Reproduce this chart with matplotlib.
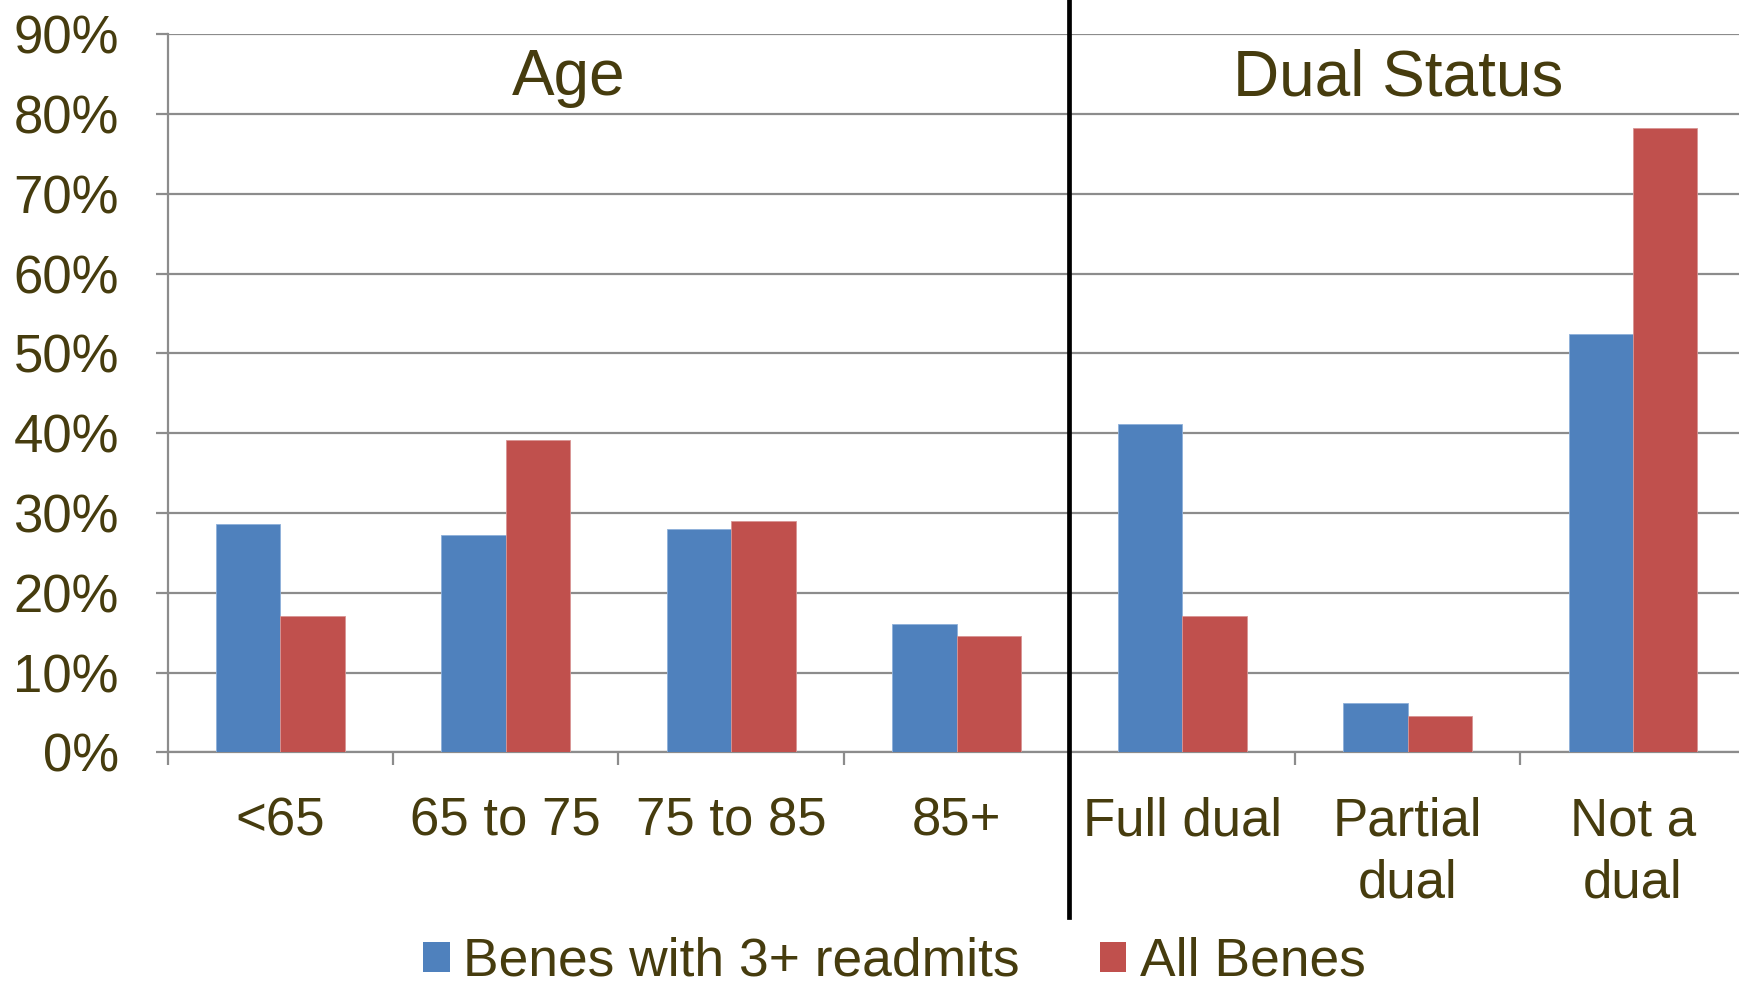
import matplotlib
matplotlib.use("Agg")
import matplotlib.pyplot as plt
from matplotlib.patches import Patch
import numpy as np

categories = ["<65", "65 to 75", "75 to 85", "85+", "Full dual", "Partial\ndual", "Not a\ndual"]
readmit3 = [28.6, 27.2, 28.0, 16.1, 41.2, 6.2, 52.5]
all_benes = [17.1, 39.2, 29.0, 14.6, 17.1, 4.5, 78.3]
series_names = ["Benes with 3+ readmits", "All Benes"]
group_titles = ["Age", "Dual Status"]
yticks = [0, 10, 20, 30, 40, 50, 60, 70, 80, 90]

TXT = "#463C0E"
GRID = "#8C8C8C"
BLUE = "#4F81BD"
RED = "#C0504D"

plt.rcParams['font.family'] = ['Liberation Sans', 'DejaVu Sans']

fig = plt.figure(figsize=(17.4, 9.84), dpi=100)
ax = fig.add_axes([0.0963, 0.2354, 0.907, 0.7297])

n = len(categories)
x = np.arange(n) + 0.5
w = 1 / 3.5
ax.bar(x - w / 2, readmit3, width=w, color=BLUE, edgecolor="#8EB0DA", linewidth=0.6, zorder=3)
ax.bar(x + w / 2, all_benes, width=w, color=RED, edgecolor="#D99594", linewidth=0.6, zorder=3)

ax.set_xlim(0, n)
ax.set_ylim(0, 90)
ax.set_yticks(yticks)
ax.set_yticklabels([f"{v}%" for v in yticks], fontsize=38, color=TXT)
ax.yaxis.grid(True, color=GRID, linewidth=1.6, zorder=0)
ax.tick_params(axis="y", length=9, width=1.6, color=GRID, pad=26)

ax.set_xticks(np.arange(n + 1))
ax.set_xticklabels([])
ax.tick_params(axis="x", which="major", length=9, width=1.6, color=GRID)
ax.set_xticks(x, minor=True)
ax.set_xticklabels(categories, minor=True, fontsize=38, color=TXT, linespacing=1.3)
ax.tick_params(axis="x", which="minor", length=0, pad=32)

for s in ["top", "right"]:
    ax.spines[s].set_visible(False)
for s in ["left", "bottom"]:
    ax.spines[s].set_color(GRID)
    ax.spines[s].set_linewidth(1.6)

# separator line between groups
ax.axvline(4, ymin=-0.229, ymax=1.05, color="black", linewidth=3.4, clip_on=False, zorder=5)

ax.text(1.78, 84.5, group_titles[0], fontsize=46, color=TXT, ha="center", va="center")
ax.text(5.46, 84.5, group_titles[1], fontsize=46, color=TXT, ha="center", va="center")

handles = [Patch(facecolor=BLUE, edgecolor="none"), Patch(facecolor=RED, edgecolor="none")]
fig.legend(handles, series_names, loc="center", bbox_to_anchor=(0.514, 0.0225), ncol=2,
           frameon=False, fontsize=38.4, labelcolor=TXT, handlelength=0.5, handleheight=0.5,
           handletextpad=0.25, columnspacing=1.5, borderpad=0)

fig.savefig("out.png", dpi=100)
